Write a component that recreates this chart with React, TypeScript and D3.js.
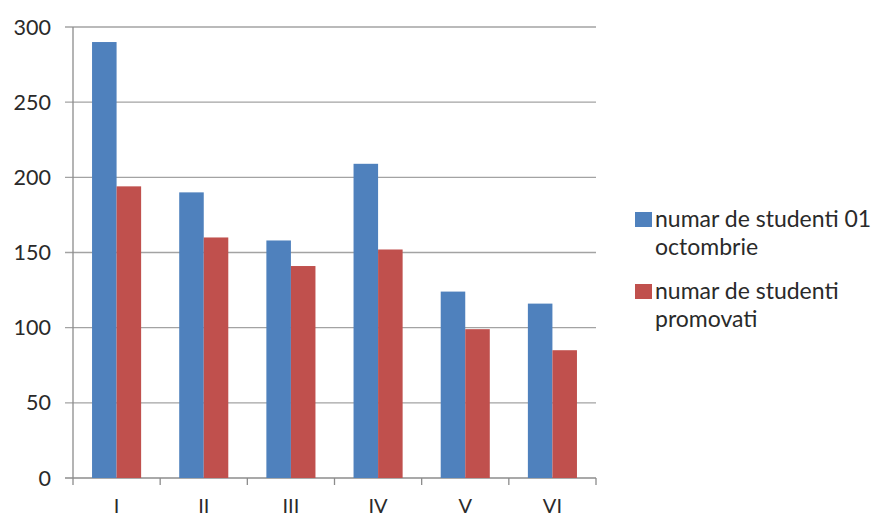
import React from "react";
import * as d3 from "d3";

const categories = ["I", "II", "III", "IV", "V", "VI"];
const seriesOct = [290, 190, 158, 209, 124, 116];
const seriesProm = [194, 160, 141, 152, 99, 85];
const seriesNames = [["numar de studenti 01", "octombrie"], ["numar de studenti", "promovati"]];
const yTicks = [0, 50, 100, 150, 200, 250, 300];
const colors = ["#4F81BD", "#C0504D"];

const W = 877, H = 519;
const left = 73, right = 596, top = 27, bottom = 478;
const font = "Lato, 'Open Sans', sans-serif";

export default function App() {
  const x = d3.scaleBand<string>().domain(categories).range([left, right]).paddingInner(0).paddingOuter(0);
  const y = d3.scaleLinear().domain([0, 300]).range([bottom, top]);
  const inner = d3.scaleBand<number>().domain([0, 1]).range([0, x.bandwidth()]).paddingOuter(0.776).paddingInner(0);
  const data = [seriesOct, seriesProm];
  return (
    <svg width={W} height={H} style={{ position: "absolute", left: 0, top: 0, background: "#fff" }}>
      {yTicks.map((t) => (
        <g key={t}>
          <line x1={left - 8} x2={right} y1={y(t)} y2={y(t)} stroke={t === 0 ? "#8c8c8c" : "#a3a3a3"} strokeWidth={1.3} />
          <text x={51} y={y(t)} dy="0.35em" textAnchor="end" fontFamily={font} fontSize={21.5} fill="#2a2a2a">{t}</text>
        </g>
      ))}
      <line x1={left} x2={left} y1={top} y2={bottom + 7} stroke="#8c8c8c" strokeWidth={1.3} />
      {categories.map((c) => (
        <g key={c}>
          <line x1={x(c)! + x.bandwidth()} x2={x(c)! + x.bandwidth()} y1={bottom} y2={bottom + 7} stroke="#8c8c8c" strokeWidth={1.3} />
          <text x={x(c)! + x.bandwidth() / 2} y={513} textAnchor="middle" fontFamily={font} fontSize={20} fill="#2a2a2a">{c}</text>
        </g>
      ))}
      {data.map((s, si) =>
        s.map((v, i) => (
          <rect key={`${si}-${i}`} x={x(categories[i])! + inner(si)!} y={y(v)} width={inner.bandwidth()} height={bottom - y(v)} fill={colors[si]} />
        ))
      )}
      {seriesNames.map((lines, si) => (
        <g key={si} transform={`translate(635, ${212 + si * 72})`}>
          <rect x={0} y={0} width={17} height={15} fill={colors[si]} />
          {lines.map((l, li) => (
            <text key={li} x={20} y={15 + li * 28} fontFamily={font} fontSize={23} fill="#2a2a2a">{l}</text>
          ))}
        </g>
      ))}
    </svg>
  );
}
